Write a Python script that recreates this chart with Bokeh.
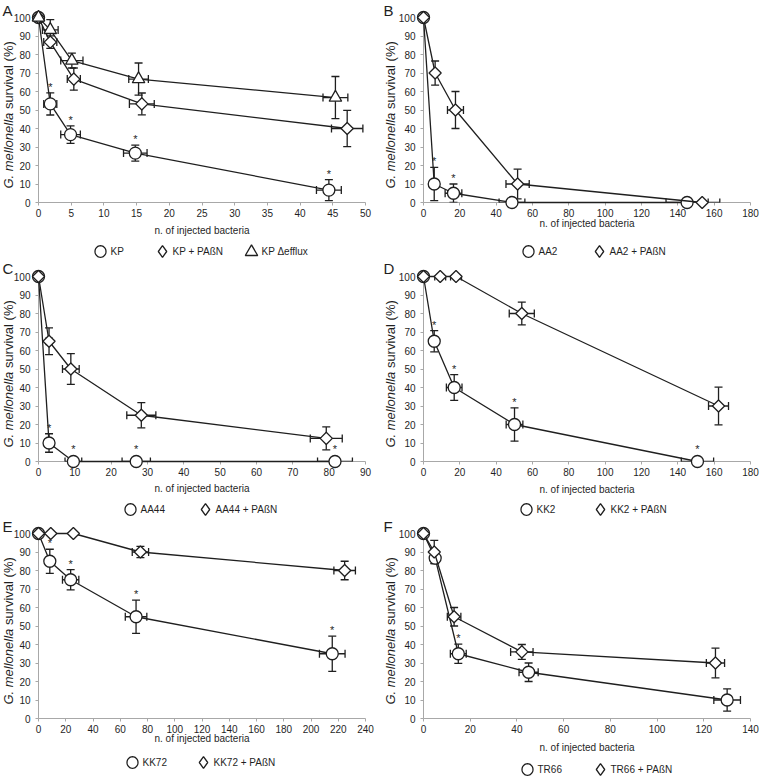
import math
from bokeh.plotting import figure
from bokeh.models import (Range1d, FixedTicker, Whisker, TeeHead, ColumnDataSource)
from bokeh.core.properties import value
from bokeh.layouts import column, row
from bokeh.embed import file_html
from bokeh.resources import INLINE

# ------------------------------------------------------------------ data
y_ticks = [0, 10, 20, 30, 40, 50, 60, 70, 80, 90, 100]

# Panel A
a_x_ticks = [0, 5, 10, 15, 20, 25, 30, 35, 40, 45, 50]
a_kp_x = [0, 1.8, 4.9, 14.8, 44.4]
a_kp_xerr = [0, 1.0, 1.5, 1.8, 1.9]
a_kp_y = [100, 53.3, 36.7, 26.7, 6.7]
a_kp_yerr = [0, 6.0, 4.7, 4.3, 5.7]
a_kp_sig = [0, 1, 1, 1, 1]
a_kpp_x = [0, 1.8, 5.4, 15.8, 47.2]
a_kpp_xerr = [0, 1.0, 1.0, 1.9, 2.4]
a_kpp_y = [100, 86.7, 66.7, 53.3, 40.0]
a_kpp_yerr = [0, 3.4, 6.0, 5.9, 9.8]
a_kpp_sig = [0, 0, 0, 0, 0]
a_kpe_x = [0, 1.8, 5.1, 15.3, 45.4]
a_kpe_xerr = [0, 1.2, 1.7, 1.5, 1.9]
a_kpe_y = [100, 93.3, 76.7, 66.7, 56.7]
a_kpe_yerr = [0, 5.5, 4.0, 8.7, 11.4]
a_kpe_sig = [0, 0, 0, 0, 0]

# Panel B
b_x_ticks = [0, 20, 40, 60, 80, 100, 120, 140, 160, 180]
b_aa2_x = [0, 5.9, 16.5, 48.7, 145.1]
b_aa2_xerr = [0, 1.0, 4.6, 7.1, 11.6]
b_aa2_y = [100, 10, 5, 0, 0]
b_aa2_yerr = [0, 9.0, 5.0, 0, 0]
b_aa2_sig = [0, 1, 1, 0, 0]
b_aa2p_x = [0, 6.4, 17.6, 51.8, 153.4]
b_aa2p_xerr = [0, 1.0, 4.4, 6.4, 9.7]
b_aa2p_y = [100, 70, 50, 10, 0]
b_aa2p_yerr = [0, 6.5, 10.0, 8.0, 0]
b_aa2p_sig = [0, 0, 0, 0, 0]

# Panel C
c_x_ticks = [0, 10, 20, 30, 40, 50, 60, 70, 80, 90]
c_aa44_x = [0, 2.9, 9.6, 26.9, 81.6]
c_aa44_xerr = [0, 0.8, 2.3, 3.9, 4.8]
c_aa44_y = [100, 10, 0, 0, 0]
c_aa44_yerr = [0, 5.0, 0, 0, 0]
c_aa44_sig = [0, 1, 1, 1, 1]
c_aa44p_x = [0, 2.9, 8.9, 28.3, 79.2]
c_aa44p_xerr = [0, 0.8, 2.3, 4.0, 4.4]
c_aa44p_y = [100, 65, 50, 25, 12.5]
c_aa44p_yerr = [0, 7.2, 8.3, 6.8, 6.2]
c_aa44p_sig = [0, 0, 0, 0, 0]

# Panel D
d_x_ticks = [0, 20, 40, 60, 80, 100, 120, 140, 160, 180]
d_kk2_x = [0, 5.9, 16.9, 50.1, 150.8]
d_kk2_xerr = [0, 1.0, 4.3, 4.6, 8.9]
d_kk2_y = [100, 65, 40, 20, 0]
d_kk2_yerr = [0, 5.7, 7.0, 9.0, 0]
d_kk2_sig = [0, 1, 1, 1, 1]
d_kk2p_x = [0, 9.2, 17.9, 54.1, 162.4]
d_kk2p_xerr = [0, 3.0, 3.0, 6.9, 5.5]
d_kk2p_y = [100, 100, 100, 80, 30]
d_kk2p_yerr = [0, 0, 0, 6.2, 10.2]
d_kk2p_sig = [0, 0, 0, 0, 0]

# Panel E
e_x_ticks = [0, 20, 40, 60, 80, 100, 120, 140, 160, 180, 200, 220, 240]
e_kk72_x = [0, 8.3, 23.6, 71.6, 215.6]
e_kk72_xerr = [0, 2.0, 6.0, 7.9, 9.4]
e_kk72_y = [100, 85, 75, 55, 35]
e_kk72_yerr = [0, 6.5, 5.5, 9.0, 9.5]
e_kk72_sig = [0, 1, 1, 1, 1]
e_kk72p_x = [0, 9.0, 25.6, 74.8, 224.7]
e_kk72p_xerr = [0, 0, 0, 6.0, 7.9]
e_kk72p_y = [100, 100, 100, 90, 80]
e_kk72p_yerr = [0, 0, 0, 3.0, 5.0]
e_kk72p_sig = [0, 0, 0, 0, 0]

# Panel F
f_x_ticks = [0, 20, 40, 60, 80, 100, 120, 140]
f_tr66_x = [0, 5.0, 14.9, 45.0, 130.0]
f_tr66_xerr = [0, 0, 3.4, 4.1, 5.7]
f_tr66_y = [100, 86.7, 35, 25, 10]
f_tr66_yerr = [0, 3.0, 5.2, 5.0, 6.0]
f_tr66_sig = [0, 0, 1, 0, 0]
f_tr66p_x = [0, 4.6, 13.1, 42.1, 125.0]
f_tr66p_xerr = [0, 0, 2.9, 4.8, 3.9]
f_tr66p_y = [100, 90, 55, 36, 30]
f_tr66p_yerr = [0, 6.3, 5.0, 4.0, 8.0]
f_tr66p_sig = [0, 0, 0, 0, 0]

# ------------------------------------------------------------------ styling
FONT = "Liberation Sans"
INK = "#1f1f1f"
AXIS = "#a8a8a8"
FRAME_W = 327
FRAME_H = 185
LW = 1.3
YL_FS = 13  # y-axis title font size (px)

MARKERS = {
    "circle": dict(marker="circle", size=12, angle=0.0),
    "diamond": dict(marker="square", size=8.6, angle=math.pi / 4),
    "triangle": dict(marker="triangle", size=12.5, angle=0.0),
}


def legend_shape(kind, cx, cy):
    """Outline of a legend symbol in local canvas pixels (y down)."""
    if kind == "circle":
        n = 32
        return [(cx + 5.5 * math.cos(2 * math.pi * k / n),
                 cy + 5.8 * math.sin(2 * math.pi * k / n)) for k in range(n)]
    if kind == "diamond":
        return [(cx, cy - 5.8), (cx + 4.2, cy), (cx, cy + 5.8), (cx - 4.2, cy)]
    return [(cx, cy - 6.6), (cx + 6.2, cy + 4.0), (cx - 6.2, cy + 4.0)]


def whisker(src, dim):
    return Whisker(source=src, base="base", lower="lower", upper="upper",
                   dimension=dim, line_color=INK, line_width=LW, level="annotation",
                   upper_head=TeeHead(size=8, line_color=INK, line_width=LW),
                   lower_head=TeeHead(size=8, line_color=INK, line_width=LW))


def add_text(p, xs, ys, texts, **kw):
    src = ColumnDataSource(dict(x=xs, y=ys, t=texts))
    kw.setdefault("text_font", value(FONT))
    kw.setdefault("text_color", INK)
    r = p.text(x="x", y="y", text="t", source=src, **kw)
    r.level = "overlay"
    return r


def build_panel(letter, series, x_max, x_ticks, lay):
    h = lay["h"]
    left, top = lay["left"], lay["top"]
    fb = top + FRAME_H  # frame bottom (local px)

    def dx(px):  # local canvas px -> data x
        return (px - left) * x_max / FRAME_W

    def dy(py):  # local canvas px -> data y
        return (fb - py) * 100.0 / FRAME_H

    p = figure(width=380, height=h, x_range=Range1d(0, x_max), y_range=Range1d(0, 100),
               output_backend="svg", toolbar_location=None,
               min_border_left=left, min_border_right=380 - left - FRAME_W,
               min_border_top=top, min_border_bottom=h - top - FRAME_H,
               background_fill_color="white", border_fill_color="white")
    p.outline_line_color = None
    p.xgrid.visible = False
    p.ygrid.visible = False
    for ax in (p.xaxis[0], p.yaxis[0]):
        ax.axis_line_color = AXIS
        ax.axis_line_width = 1
        ax.major_tick_line_color = AXIS
        ax.major_tick_in = 0
        ax.major_tick_out = 3
        ax.minor_tick_in = 0
        ax.minor_tick_out = 0
        ax.major_label_text_font = FONT
        ax.major_label_text_font_size = "10px"
        ax.major_label_text_color = INK
    p.xaxis.ticker = FixedTicker(ticks=x_ticks)
    p.yaxis.ticker = FixedTicker(ticks=y_ticks)
    p.xaxis.major_label_standoff = 3
    p.yaxis.major_label_standoff = 5
    p.xaxis.axis_label = "n. of injected bacteria"
    p.xaxis.axis_label_text_font = FONT
    p.xaxis.axis_label_text_font_size = "10px"
    p.xaxis.axis_label_text_font_style = "normal"
    p.xaxis.axis_label_text_color = INK
    p.xaxis.axis_label_standoff = lay["xlab_standoff"]

    r_units = 6.2 / (FRAME_H / 100.0)
    for i, (name, kind, xs, xe, ys, ye, sig) in enumerate(series):
        ysrc = ColumnDataSource(dict(
            base=[x for x, e in zip(xs, ye) if e > 0],
            lower=[y - e for y, e in zip(ys, ye) if e > 0],
            upper=[y + e for y, e in zip(ys, ye) if e > 0]))
        xsrc = ColumnDataSource(dict(
            base=[y for y, e in zip(ys, xe) if e > 0],
            lower=[x - e for x, e in zip(xs, xe) if e > 0],
            upper=[x + e for x, e in zip(xs, xe) if e > 0]))
        p.add_layout(whisker(ysrc, "height"))
        p.add_layout(whisker(xsrc, "width"))
        lr = p.line(xs, ys, line_color=INK, line_width=LW)
        lr.level = "overlay"
        m = MARKERS[kind]
        mr = p.scatter(xs, ys, marker=m["marker"], size=m["size"], angle=m["angle"],
                       fill_color="white", line_color=INK, line_width=LW)
        mr.level = "overlay"
        # significance asterisks
        sx = [x for x, s in zip(xs, sig) if s]
        sy = [y + max(e, r_units) for y, e, s in zip(ys, ye, sig) if s]
        if sx:
            add_text(p, sx, sy, ["*"] * len(sx), text_align="center",
                     text_baseline="middle", y_offset=-6, text_font_size="11px")
        # legend entry (drawn below the axis)
        cx = lay["leg_x"][i]
        cy = lay["leg_y"]
        pts = legend_shape(kind, cx, cy)
        lg = p.patch([dx(a) for a, b in pts], [dy(b) for a, b in pts],
                     fill_color="white", line_color=INK, line_width=LW)
        lg.level = "overlay"
        add_text(p, [dx(cx + 10)], [dy(cy)], [name], text_align="left",
                 text_baseline="middle", text_font_size="10px")

    # y-axis title with italic species name
    w_it = 5.83 * YL_FS
    w_rg = 5.48 * YL_FS
    jpx = lay["ylab_cy"] - (w_it - w_rg) / 2.0  # junction, local px (y down)
    add_text(p, [dx(lay["ylab_x"])], [dy(jpx)], ["G. mellonella"], angle=math.pi / 2,
             text_align="right", text_baseline="middle", text_font_style="italic",
             text_font_size=f"{YL_FS}px")
    add_text(p, [dx(lay["ylab_x"])], [dy(jpx - 0.278 * YL_FS)], ["survival (%)"],
             angle=math.pi / 2, text_align="left", text_baseline="middle",
             text_font_size=f"{YL_FS}px")
    # panel letter
    add_text(p, [dx(lay["letter_x"])], [dy(1)], [letter], text_align="left",
             text_baseline="top", text_font_size="15px")
    return p


LAY = {
    "A": dict(h=258, left=38, top=17, xlab_standoff=5, leg_x=[100, 162, 251], leg_y=251,
              ylab_x=7.5, ylab_cy=114.5, letter_x=2),
    "B": dict(h=258, left=43, top=17, xlab_standoff=-2, leg_x=[148, 219], leg_y=251,
              ylab_x=9.5, ylab_cy=114.5, letter_x=3),
    "C": dict(h=258, left=38, top=18, xlab_standoff=4, leg_x=[130, 205], leg_y=251,
              ylab_x=7.5, ylab_cy=115.5, letter_x=2),
    "D": dict(h=258, left=43, top=18, xlab_standoff=5, leg_x=[146, 220], leg_y=251,
              ylab_x=9.5, ylab_cy=115.5, letter_x=3),
    "E": dict(h=260, left=38, top=17, xlab_standoff=-3, leg_x=[132, 203], leg_y=246,
              ylab_x=7.5, ylab_cy=114.5, letter_x=2),
    "F": dict(h=260, left=43, top=17, xlab_standoff=6, leg_x=[147, 220], leg_y=253,
              ylab_x=9.5, ylab_cy=114.5, letter_x=3),
}

pA = build_panel("A", [
    ("KP", "circle", a_kp_x, a_kp_xerr, a_kp_y, a_kp_yerr, a_kp_sig),
    ("KP + PAßN", "diamond", a_kpp_x, a_kpp_xerr, a_kpp_y, a_kpp_yerr, a_kpp_sig),
    ("KP Δefflux", "triangle", a_kpe_x, a_kpe_xerr, a_kpe_y, a_kpe_yerr, a_kpe_sig),
], 50, a_x_ticks, LAY["A"])
pB = build_panel("B", [
    ("AA2", "circle", b_aa2_x, b_aa2_xerr, b_aa2_y, b_aa2_yerr, b_aa2_sig),
    ("AA2 + PAßN", "diamond", b_aa2p_x, b_aa2p_xerr, b_aa2p_y, b_aa2p_yerr, b_aa2p_sig),
], 180, b_x_ticks, LAY["B"])
pC = build_panel("C", [
    ("AA44", "circle", c_aa44_x, c_aa44_xerr, c_aa44_y, c_aa44_yerr, c_aa44_sig),
    ("AA44 + PAßN", "diamond", c_aa44p_x, c_aa44p_xerr, c_aa44p_y, c_aa44p_yerr, c_aa44p_sig),
], 90, c_x_ticks, LAY["C"])
pD = build_panel("D", [
    ("KK2", "circle", d_kk2_x, d_kk2_xerr, d_kk2_y, d_kk2_yerr, d_kk2_sig),
    ("KK2 + PAßN", "diamond", d_kk2p_x, d_kk2p_xerr, d_kk2p_y, d_kk2p_yerr, d_kk2p_sig),
], 180, d_x_ticks, LAY["D"])
pE = build_panel("E", [
    ("KK72", "circle", e_kk72_x, e_kk72_xerr, e_kk72_y, e_kk72_yerr, e_kk72_sig),
    ("KK72 + PAßN", "diamond", e_kk72p_x, e_kk72p_xerr, e_kk72p_y, e_kk72p_yerr, e_kk72p_sig),
], 240, e_x_ticks, LAY["E"])
pF = build_panel("F", [
    ("TR66", "circle", f_tr66_x, f_tr66_xerr, f_tr66_y, f_tr66_yerr, f_tr66_sig),
    ("TR66 + PAßN", "diamond", f_tr66p_x, f_tr66p_xerr, f_tr66p_y, f_tr66p_yerr, f_tr66p_sig),
], 140, f_x_ticks, LAY["F"])

layout = column(row(pA, pB), row(pC, pD), row(pE, pF))
open("out.html", "w").write(file_html(layout, INLINE))
